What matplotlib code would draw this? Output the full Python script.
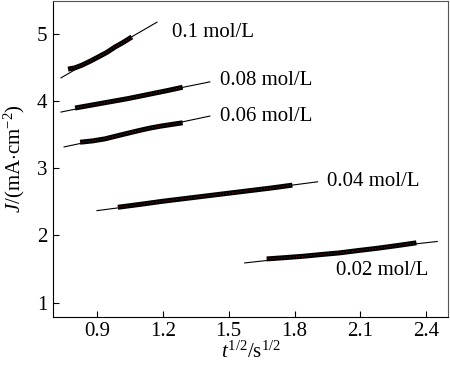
import matplotlib
matplotlib.use('Agg')
import matplotlib.pyplot as plt

plt.rcParams['font.family'] = ['Liberation Serif', 'DejaVu Serif']
plt.rcParams['mathtext.fontset'] = 'custom'
plt.rcParams['mathtext.rm'] = 'Liberation Serif'
plt.rcParams['mathtext.it'] = 'Liberation Serif:italic'

# concentration labels
labels = ['0.1 mol/L', '0.08 mol/L', '0.06 mol/L', '0.04 mol/L', '0.02 mol/L']

x_01 = [0.768, 0.80, 0.832, 0.87, 0.905, 0.945, 0.982, 1.02, 1.059]
y_01 = [4.48, 4.50, 4.54, 4.60, 4.66, 4.73, 4.81, 4.88, 4.96]
x_008 = [0.80, 0.86, 0.92, 0.98, 1.04, 1.10, 1.16, 1.22, 1.29]
y_008 = [3.90, 3.935, 3.97, 4.005, 4.04, 4.08, 4.12, 4.16, 4.21]
x_006 = [0.823, 0.88, 0.936, 1.01, 1.086, 1.14, 1.19, 1.24, 1.29]
y_006 = [3.39, 3.41, 3.44, 3.50, 3.56, 3.60, 3.63, 3.655, 3.68]
x_004 = [0.995, 1.10, 1.20, 1.30, 1.40, 1.50, 1.60, 1.70, 1.79]
y_004 = [2.42, 2.465, 2.51, 2.55, 2.59, 2.63, 2.67, 2.71, 2.75]
x_002 = [1.673, 1.76, 1.84, 1.92, 2.005, 2.09, 2.18, 2.27, 2.355]
y_002 = [1.65, 1.67, 1.69, 1.715, 1.74, 1.775, 1.81, 1.85, 1.89]

# linear fits: start / end points
fit_x = [(0.736, 1.173), (0.736, 1.414), (0.75, 1.414), (0.90, 1.905), (1.573, 2.45)]
fit_y = [(4.35, 5.18), (3.84, 4.29), (3.32, 3.78), (2.37, 2.80), (1.59, 1.91)]

# label anchor (left, centre)
lab_x = [1.24, 1.46, 1.46, 1.95, 1.99]
lab_y = [5.03, 4.31, 3.78, 2.81, 1.47]

curves_x = [x_01, x_008, x_006, x_004, x_002]
curves_y = [y_01, y_008, y_006, y_004, y_002]

fig = plt.figure(figsize=(4.5, 3.66), dpi=100)
ax = fig.add_axes([0.118, 0.135, 0.878, 0.863])

for i in range(len(labels)):
    ax.plot(fit_x[i], fit_y[i], color='black', lw=0.8)
    ax.plot(curves_x[i], curves_y[i], color='black', lw=3.6, solid_capstyle='butt')
    ax.plot(curves_x[i], curves_y[i], color='#6b1515', lw=0.8, ls=':')
    ax.text(lab_x[i], lab_y[i], labels[i], fontsize=15, ha='left', va='center')

ax.set_xlim(0.7, 2.5)
ax.set_ylim(0.79, 5.5)
ax.set_xticks([0.9, 1.2, 1.5, 1.8, 2.1, 2.4])
ax.set_xticklabels(['0.9', '1.2', '1.5', '1.8', '2.1', '2.4'])
ax.set_yticks([1, 2, 3, 4, 5])
ax.tick_params(direction='in', length=4, width=0.8, labelsize=15,
               top=False, right=False, pad=4)
for s in ['top', 'right']:
    ax.spines[s].set_color('#555555')

ax.set_xlabel(r'$t^{1/2}$/s$^{1/2}$', fontsize=15, labelpad=0)
ax.set_ylabel(r'$J$/(mA$\cdot$cm$^{-2}$)', fontsize=15, labelpad=7)

fig.savefig('out.png', dpi=100)
